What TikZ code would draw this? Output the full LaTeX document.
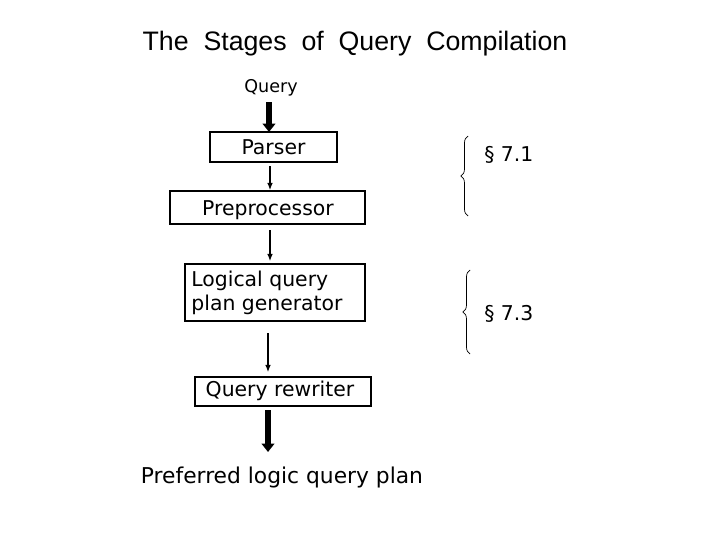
\documentclass[tikz,border=0pt]{standalone}
\usepackage{fontspec}
\setmainfont{DejaVu Sans}
\newfontfamily\titlefont{Liberation Sans}
\usetikzlibrary{arrows.meta,decorations.pathreplacing}
\begin{document}
\begin{tikzpicture}[x=0.025cm,y=-0.025cm,
  lbl/.style={font=\fontsize{14.5}{17}\selectfont,inner sep=0pt},
  thin/.style={-{Latex[length=5pt,width=4pt]},line width=0.8pt},
  thickar/.style={-{Triangle[length=6pt,width=9pt]},line width=4pt},
  brace/.style={decorate,decoration={brace,amplitude=5pt},line width=0.5pt}]
\useasboundingbox (0,0) rectangle (720,540);
\node[font=\titlefont\fontsize{19}{22}\selectfont] (title) at (355,44) {The\ \ Stages\ \ of\ \ Query\ \ Compilation};
\node[font=\fontsize{12.5}{14}\selectfont] (q) at (271,88) {Query};
\draw[thick] (210,132) rectangle (337,162);
\node[lbl] (p) at (273.5,147) {Parser};
\draw[thick] (170,191) rectangle (365,224);
\node[lbl] (pre) at (268,210) {Preprocessor};
\draw[thick] (185,264) rectangle (365,321);
\node[lbl,align=left] (log) at (267,293) {Logical query\\plan generator};
\draw[thick] (195,377) rectangle (371,406);
\node[lbl] (rw) at (280,391) {Query rewriter};
\node[font=\fontsize{15.5}{18}\selectfont] (pref) at (282,477) {Preferred logic query plan};
\coordinate (a0) at (269,102); \coordinate (a1) at (269,132);
\draw[thickar] (a0) -- (a1);
\coordinate (b0) at (270,166); \coordinate (b1) at (270,190);
\draw[thin] (b0) -- (b1);
\coordinate (c0) at (270,230); \coordinate (c1) at (270,261);
\draw[thin] (c0) -- (c1);
\coordinate (d0) at (268,333); \coordinate (d1) at (268,372);
\draw[thin] (d0) -- (d1);
\coordinate (e0) at (268,410); \coordinate (e1) at (268,452);
\draw[thickar] (e0) -- (e1);
\coordinate (br1a) at (468,136); \coordinate (br1b) at (468,216);
\draw[brace] (br1b) -- (br1a);
\coordinate (br2a) at (470,270); \coordinate (br2b) at (470,354);
\draw[brace] (br2b) -- (br2a);
\node[lbl,anchor=west] (s1) at (484,155) {§ 7.1};
\node[lbl,anchor=west] (s3) at (484,314) {§ 7.3};
\end{tikzpicture}
\end{document}
